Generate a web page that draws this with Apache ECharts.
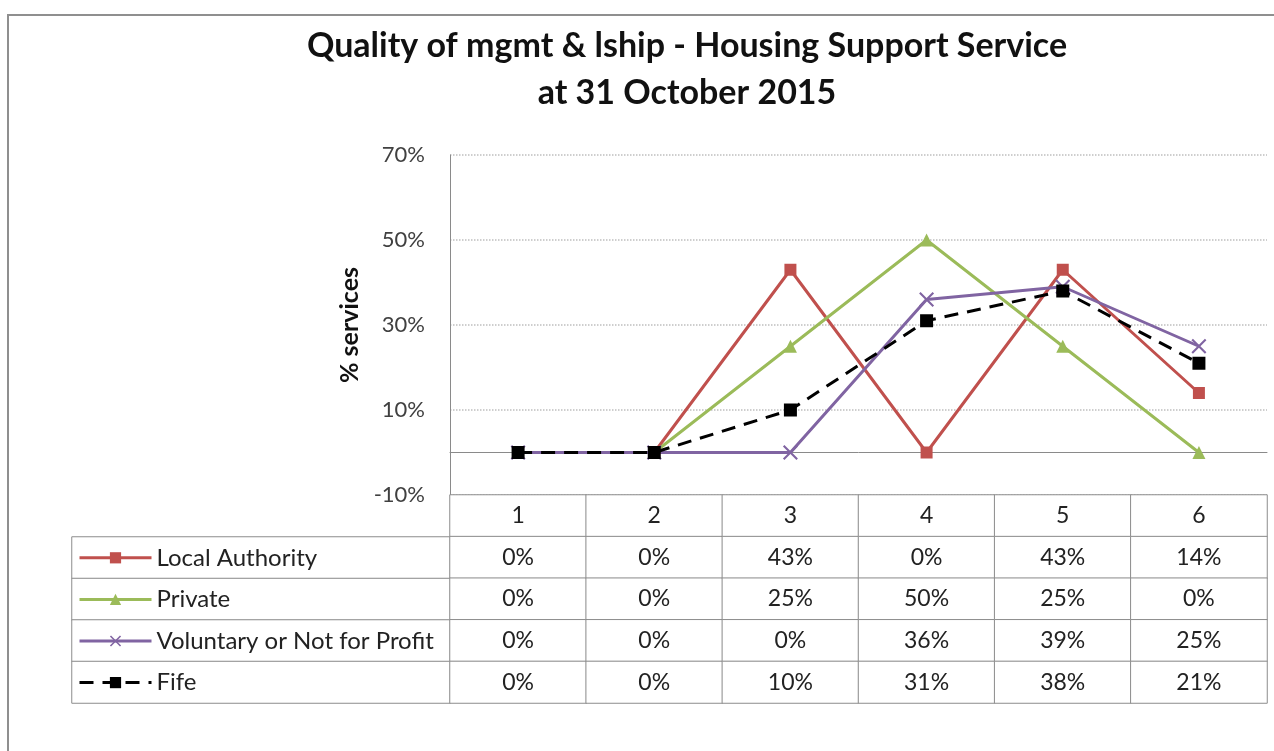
<!DOCTYPE html>
<html>
<head>
<meta charset="utf-8">
<title>Quality of mgmt &amp; lship - Housing Support Service</title>
<script src="https://cdn.jsdelivr.net/npm/echarts@6/dist/echarts.min.js"></script>
<style>
  html, body { margin: 0; padding: 0; background: #fff; }
  #chart { width: 1274px; height: 751px; }
</style>
</head>
<body>
<div id="chart"></div>
<script>
  // grades on the x axis
  var grades = ['1', '2', '3', '4', '5', '6'];
  // % of services per grade
  var localAuthority = [0, 0, 43, 0, 43, 14];
  var privateSector = [0, 0, 25, 50, 25, 0];
  var voluntary = [0, 0, 0, 36, 39, 25];
  var fife = [0, 0, 10, 31, 38, 21];
  var seriesNames = ['Local Authority', 'Private', 'Voluntary or Not for Profit', 'Fife'];
  var titleLines = ['Quality of mgmt & lship - Housing Support Service', 'at 31 October 2015'];

  var FONT = 'Lato';
  var seriesValues = [localAuthority, privateSector, voluntary, fife];
  var tableRows = ['head'].concat(seriesNames);

  // cross marker (filled polygon)
  var crossPath = 'path://M0,1 L1,0 L5,4 L9,0 L10,1 L6,5 L10,9 L9,10 L5,6 L1,10 L0,9 L4,5 Z';

  // data table cells: header row + one row per series
  var tableCells = [];
  grades.forEach(function (g, c) {
    tableCells.push([c, 0, +g]);
    seriesValues.forEach(function (vals, i) {
      tableCells.push([c, i + 1, vals[c]]);
    });
  });
  var legendCells = seriesNames.map(function (n, i) { return [0, i, 0]; });

  var rowTop = 537, rowH = 41.6;

  var chart = echarts.init(document.getElementById('chart'));

  var option = {
    backgroundColor: '#fff',
    animation: false,
    legend: seriesNames.map(function (n, i) {
      return {
        data: [n],
        left: 78,
        top: rowTop + rowH * i + rowH / 2 - 14,
        padding: 0,
        itemWidth: 72,
        itemHeight: 14,
        selectedMode: false,
        lineStyle: { width: 3 },
        textStyle: { fontFamily: FONT, fontSize: 24, color: '#222', lineHeight: 28 }
      };
    }),
    grid: [
      { left: 450, right: 7, top: 155, bottom: 256 },
      { left: 450, right: 7, top: 495, bottom: 48 },
      { left: 72, width: 378, top: rowTop, bottom: 48 }
    ],
    xAxis: [
      {
        gridIndex: 0,
        type: 'category',
        data: grades,
        boundaryGap: true,
        axisLine: { onZero: true, lineStyle: { color: '#8a8a8a', width: 1 } },
        axisTick: { show: false },
        axisLabel: { show: false },
        splitLine: { show: false }
      },
      { gridIndex: 1, type: 'category', data: grades, show: false },
      { gridIndex: 2, type: 'category', data: ['legend'], show: false }
    ],
    yAxis: [
      {
        gridIndex: 0,
        type: 'value',
        min: -10,
        max: 70,
        interval: 20,
        name: '% services',
        nameLocation: 'middle',
        nameGap: 88,
        nameTextStyle: { fontFamily: FONT, fontSize: 25, fontWeight: 'bold', color: '#111' },
        axisLine: { show: true, lineStyle: { color: '#8a8a8a' } },
        axisTick: { show: false },
        axisLabel: {
          formatter: '{value}%',
          margin: 25,
          fontFamily: FONT,
          fontSize: 22,
          color: '#404040'
        },
        splitLine: { lineStyle: { color: '#bfbfbf', type: 'dotted', width: 1.5 } }
      },
      { gridIndex: 1, type: 'category', data: tableRows, inverse: true, show: false },
      { gridIndex: 2, type: 'category', data: seriesNames, inverse: true, show: false }
    ],
    series: [
      {
        name: 'Local Authority',
        type: 'line',
        data: localAuthority,
        symbol: 'rect',
        symbolSize: 12,
        color: '#C0504D',
        lineStyle: { width: 3 },
        z: 3
      },
      {
        name: 'Private',
        type: 'line',
        data: privateSector,
        symbol: 'triangle',
        symbolSize: 13,
        color: '#9BBB59',
        lineStyle: { width: 3 },
        z: 3
      },
      {
        name: 'Voluntary or Not for Profit',
        type: 'line',
        data: voluntary,
        symbol: crossPath,
        symbolSize: 15,
        color: '#8064A2',
        lineStyle: { width: 3 },
        z: 3
      },
      {
        name: 'Fife',
        type: 'line',
        data: fife,
        symbol: 'rect',
        symbolSize: 13,
        color: '#000',
        lineStyle: { width: 3, type: [14, 9] },
        z: 4
      },
      {
        type: 'heatmap',
        xAxisIndex: 1,
        yAxisIndex: 1,
        data: tableCells,
        itemStyle: { color: '#fff', borderColor: '#8c8c8c', borderWidth: 1 },
        label: {
          show: true,
          fontFamily: FONT,
          fontSize: 23,
          color: '#222',
          formatter: function (p) {
            return p.value[1] === 0 ? grades[p.value[0]] : p.value[2] + '%';
          }
        },
        emphasis: { disabled: true },
        silent: true,
        z: 5
      },
      {
        type: 'heatmap',
        xAxisIndex: 2,
        yAxisIndex: 2,
        data: legendCells,
        itemStyle: { color: '#fff', borderColor: '#8c8c8c', borderWidth: 1 },
        label: { show: false },
        emphasis: { disabled: true },
        silent: true,
        z: 1
      }
    ],
    graphic: [
      {
        type: 'rect',
        shape: { x: 8, y: 15, width: 1400, height: 900 },
        style: { fill: 'none', stroke: '#8f8f8f', lineWidth: 2 },
        silent: true
      }
    ].concat(titleLines.map(function (t, i) {
      return {
        type: 'text',
        x: 687,
        y: 46 + 47 * i,
        silent: true,
        style: {
          text: t,
          fontFamily: FONT,
          fontSize: 34,
          fontWeight: 'bold',
          fill: '#111',
          align: 'center',
          verticalAlign: 'middle'
        }
      };
    }))
  };

  chart.setOption(option);
</script>
</body>
</html>
